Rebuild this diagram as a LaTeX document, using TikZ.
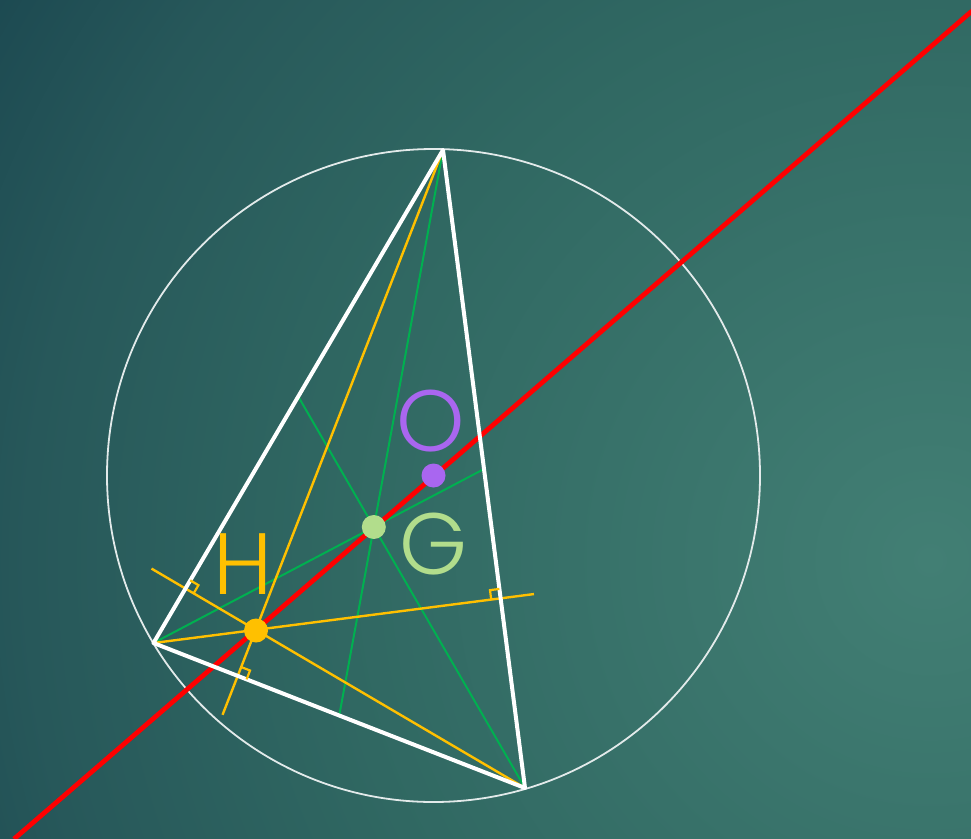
\documentclass[tikz,border=0pt]{standalone}
\usepackage{fontspec}
\newfontfamily\lblfont{Poppins Light}
\usetikzlibrary{calc}
\definecolor{bg0}{HTML}{427F74}
\definecolor{bg1}{HTML}{306862}
\definecolor{bg2}{HTML}{27585A}
\definecolor{bg3}{HTML}{1C4951}
\definecolor{circcol}{HTML}{E2EAEA}
\definecolor{medgreen}{HTML}{00B050}
\definecolor{altyellow}{HTML}{FFC000}
\definecolor{eulerred}{HTML}{FF0000}
\definecolor{opurple}{HTML}{A966F0}
\definecolor{glgreen}{HTML}{B2DD8C}
\pgfdeclareradialshading{bgshade}{\pgfpoint{0bp}{0bp}}{color(0bp)=(bg0); color(13.4bp)=(bg1); color(20.5bp)=(bg2); color(25bp)=(bg3); color(50bp)=(bg3)}
\tikzset{
  tri/.style={draw=white, line width=4pt, line join=round},
  circ/.style={draw=circcol, line width=1.8pt},
  median/.style={draw=medgreen, line width=2pt},
  alt/.style={draw=altyellow, line width=2.4pt},
  euler/.style={draw=eulerred, line width=4.8pt},
  rmark/.style={draw=altyellow, line width=2.2pt},
  dot/.style={circle, inner sep=0pt, minimum size=24pt},
  lbl/.style={inner sep=0pt, anchor=base, font=\lblfont\fontsize{87}{87}\selectfont}
}
\begin{document}
\begin{tikzpicture}[x=1pt,y=-1pt]
\useasboundingbox (0,0) rectangle (971,838);
\begin{scope}
  \clip (0,0) rectangle (971,838);
  \fill[shading=bgshade] (930,560) circle (1100);
\end{scope}
% vertices and centres
\coordinate (A) at (443,150);
\coordinate (B) at (153.5,643);
\coordinate (C) at (525,788);
\coordinate (O) at (433.5,475.5);
\coordinate (G) at (373.8,527);
\coordinate (H) at (256,630.5);
% circumcircle
\draw[circ] (O) circle (326.5);
% medians
\coordinate (Ma) at ($(B)!0.5!(C)$);
\coordinate (Mb) at ($(A)!0.5!(C)$);
\coordinate (Mc) at ($(A)!0.5!(B)$);
\draw[median] (A) -- (Ma);
\draw[median] (B) -- (Mb);
\draw[median] (C) -- (Mc);
% altitudes
\coordinate (Fa) at ($(B)!(A)!(C)$);
\coordinate (Fb) at ($(A)!(B)!(C)$);
\coordinate (Fc) at ($(A)!(C)!(B)$);
\coordinate (Ea) at ($(A)!1.074!(Fa)$);
\coordinate (Eb) at ($(B)!1.096!(Fb)$);
\coordinate (Ec) at ($(C)!1.10!(Fc)$);
\draw[alt] (A) -- (Ea);
\draw[alt] (B) -- (Eb);
\draw[alt] (C) -- (Ec);
% Euler line
\coordinate (E1) at (14,839);
\coordinate (E2) at (972,11);
\draw[euler] (E1) -- (E2);
% triangle
\draw[tri] (A) -- (B) -- (C) -- cycle;
% right-angle marks
\coordinate (a1) at ($(Fa)!9.5pt!(C)$);
\coordinate (a2) at ($(Fa)!9.5pt!(A)$);
\draw[rmark] (a1) -- ($(a1)+(a2)-(Fa)$) -- (a2);
\coordinate (b1) at ($(Fb)!9.5pt!(A)$);
\coordinate (b2) at ($(Fb)!9.5pt!(B)$);
\draw[rmark] (b1) -- ($(b1)+(b2)-(Fb)$) -- (b2);
\coordinate (c1) at ($(Fc)!9.5pt!(A)$);
\coordinate (c2) at ($(Fc)!9.5pt!(C)$);
\draw[rmark] (c1) -- ($(c1)+(c2)-(Fc)$) -- (c2);
% points
\node[dot, fill=opurple] (Odot) at (O) {};
\node[dot, fill=glgreen] (Gdot) at (G) {};
\node[dot, fill=altyellow] (Hdot) at (H) {};
% labels
\node[lbl, text=opurple] (Olbl) at (431,451.5) {O};
\node[lbl, text=glgreen] (Glbl) at (434,574.5) {G};
\node[lbl, text=altyellow] (Hlbl) at (243,594) {H};
\end{tikzpicture}
\end{document}
